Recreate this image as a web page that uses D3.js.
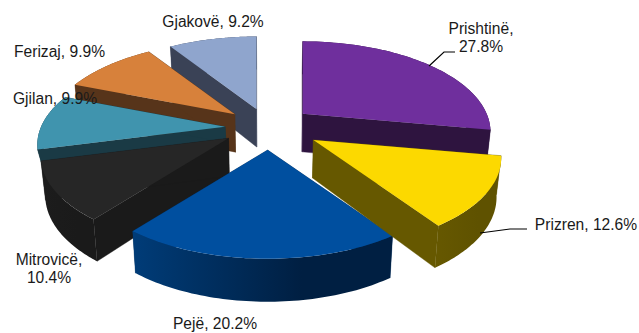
<!DOCTYPE html>
<html><head><meta charset="utf-8">
<script src="https://cdn.jsdelivr.net/npm/d3@7/dist/d3.min.js"></script>
<style>html,body{margin:0;padding:0;background:#fff;overflow:hidden}svg{display:block}
text{font-family:"Liberation Sans",Arial,sans-serif;font-size:15.6px;fill:#1a1a1a}</style>
</head><body><svg id="c" width="639" height="333"></svg>
<script>
const categories=["Prishtinë","Prizren","Pejë","Mitrovicë","Gjilan","Ferizaj","Gjakovë"];
const shares=[27.8,12.6,20.2,10.4,9.9,9.9,9.2];
const explodeX=[1,1.2,1,1.1,1,1,1];
const explodeY=[1,1,1,0.85,1,1,0.9];
const wallDepth=[1,1,1,1,0.42,1,1];
const topColors=["#6f2f9d","#fcd900","#004f9f","#262626","#4094ae","#d7813b","#8fa5cd"];
const radialColors=["#2e143f","#665800","#00305f","#1a1a1a","#1a3a45","#57341a","#3a4256"];
const wallLeft=["#2e143f","#665800","#003c78","#1c1c1c","#1a3a45","#57341a","#3a4256"];
const wallRight=["#2e143f","#5f5200","#001f42","#1a1a1a","#1a3a45","#57341a","#3a4256"];
const drawOrder=[6,0,5,4,3,2,1];
const labelLines=[["Prishtinë,","27.8%"],["Prizren, 12.6%"],["Pejë, 20.2%"],["Mitrovicë,","10.4%"],["Gjilan, 9.9%"],["Ferizaj, 9.9%"],["Gjakovë, 9.2%"]];
const labelAt=[[481,34],[586,230],[215,329],[49,265],[55,104],[59.5,57],[213,27]];
const leaders=[[[429,66],[444,52],[455,52]],[[480,233],[510,229],[527,229]]];

const svg=d3.select("#c"),defs=svg.append("defs");
const CX=269,CY=128,P=0.2;
const sx=d3.scaleLinear().domain([-1,1]).range([-184,184]);
const sy=d3.scaleLinear().domain([-1,1]).range([-87,87]);
const pie=d3.pie().sort(null).startAngle(0).endAngle(2*Math.PI);
const arcs=pie(shares);
const line=d3.line();

function point(a,r,ox,oy,depth){
  const X=r*Math.sin(a),Y=-r*Math.cos(a),d=1-P*Y;
  let x=CX+ox+sx(X)/d,y=CY+oy+sy(Y)/d;
  if(depth){x+=(CX-x)*0.02;y+=(38+5*Y)*depth;}
  return [x,y];
}
const gLeft=(i)=>"w"+i;
arcs.forEach((s,i)=>{
  const g=defs.append("linearGradient").attr("id",gLeft(i));
  g.append("stop").attr("offset","0").attr("stop-color",wallLeft[i]);
  g.append("stop").attr("offset","0.65").attr("stop-color",wallRight[i]);
});
drawOrder.forEach(i=>{
  const s=arcs[i],m=(s.startAngle+s.endAngle)/2;
  const ox=44*explodeX[i]*Math.sin(m),oy=-22*explodeY[i]*Math.cos(m);
  const angs=d3.range(0,61).map(k=>s.startAngle+(s.endAngle-s.startAngle)*k/60);
  const up=angs.map(a=>point(a,1,ox,oy,0));
  const lo=angs.map(a=>point(a,1,ox,oy,wallDepth[i]));
  const au=point(0,0,ox,oy,0),al=point(0,0,ox,oy,wallDepth[i]);
  const g=svg.append("g").attr("class","slice");
  g.append("path").attr("d",line([au,up[0],lo[0],al])+"Z").attr("fill",radialColors[i]).attr("stroke",radialColors[i]).attr("stroke-width",0.4);
  g.append("path").attr("d",line([au,up[60],lo[60],al])+"Z").attr("fill",radialColors[i]).attr("stroke",radialColors[i]).attr("stroke-width",0.4);
  g.append("path").attr("d",line(up.concat(lo.slice().reverse()))+"Z").attr("fill",`url(#${gLeft(i)})`);
  g.append("path").attr("d",line([au].concat(up))+"Z").attr("fill",topColors[i]);
});
svg.append("g").selectAll("path").data(leaders).join("path")
  .attr("d",d=>line(d)).attr("fill","none").attr("stroke","#000").attr("stroke-width",1.2);
labelLines.forEach((ls,i)=>{
  const t=svg.append("text").attr("text-anchor","middle");
  ls.forEach((l,k)=>t.append("tspan").attr("x",labelAt[i][0]).attr("y",labelAt[i][1]+k*18).text(l));
});
</script></body></html>
